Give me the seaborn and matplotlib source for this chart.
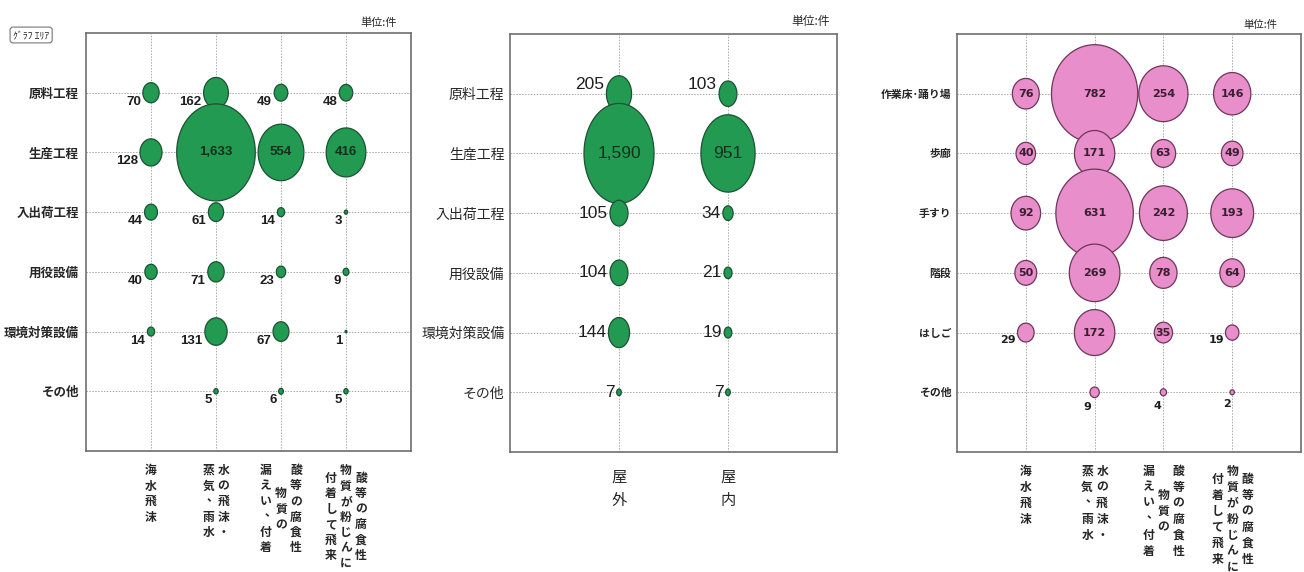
import numpy as np
import pandas as pd
import matplotlib
matplotlib.use("Agg")
import matplotlib.pyplot as plt
import seaborn as sns
from matplotlib.path import Path

sns.set_theme(style="white")
plt.rcParams['font.family'] = ['Noto Sans CJK JP', 'DejaVu Sans']
plt.rcParams['axes.unicode_minus'] = False

DPI = 100
PT = 72 / DPI  # 1px -> pt

# ---- データ ----
# 左: 工程別 × 腐食要因
process_rows = ['原料工程', '生産工程', '入出荷工程', '用役設備', '環境対策設備', 'その他']
cause_cols = [['海水飛沫'],
              ['水の飛沫・', '蒸気、雨水'],
              ['酸等の腐食性', '物質の', '漏えい、付着'],
              ['酸等の腐食性', '物質が粉じんに', '付着して飛来']]
cause_counts = [
    [70, 162, 49, 48],
    [128, 1633, 554, 416],
    [44, 61, 14, 3],
    [40, 71, 23, 9],
    [14, 131, 67, 1],
    [None, 5, 6, 5],
]

# 中: 工程別 × 屋外/屋内
place_cols = [['屋外'], ['屋内']]
place_counts = [
    [205, 103],
    [1590, 951],
    [105, 34],
    [104, 21],
    [144, 19],
    [7, 7],
]

# 右: 設備別 × 腐食要因
equip_rows = ['作業床･踊り場', '歩廊', '手すり', '階段', 'はしご', 'その他']
equip_counts = [
    [76, 782, 254, 146],
    [40, 171, 63, 49],
    [92, 631, 242, 193],
    [50, 269, 78, 64],
    [29, 172, 35, 19],
    [None, 9, 4, 2],
]


def to_long(rows, counts):
    recs = []
    for i in range(len(rows)):
        for j, v in enumerate(counts[i]):
            if v is not None:
                recs.append({'row': i, 'col': j, 'count': v})
    return pd.DataFrame(recs)


def ellipse(aspect):
    t = np.linspace(0, 2 * np.pi, 120)
    verts = np.column_stack([aspect * np.cos(t), np.sin(t)])
    return Path(verts, closed=True)


def draw_panel(ax, rows, cols, counts, cfg):
    df = to_long(rows, counts)
    vmax = df['count'].max()
    smax = (cfg['hmax'] * PT) ** 2
    sns.scatterplot(data=df, x='col', y='row', size='count',
                    sizes=(0, smax), size_norm=(0, vmax),
                    marker=ellipse(cfg['aspect']), color=cfg['color'],
                    edgecolor=cfg['edge'], linewidth=0.9, alpha=1,
                    legend=False, ax=ax, zorder=3)

    ax.set_xlim(-1, len(cols))
    ax.set_ylim(len(rows), -1)
    ax.set_xticks(range(len(cols)))
    ax.set_xticklabels([])
    ax.set_yticks(range(len(rows)))
    ax.set_yticklabels(rows, fontsize=cfg['yfs'], fontweight=cfg['yfw'])
    ax.tick_params(length=0, axis='y', pad=cfg['ypad'])
    ax.tick_params(length=0, axis='x')
    ax.set_xlabel('')
    ax.set_ylabel('')
    ax.grid(True, color='#a9a9a9', linestyle=(0, (1.5, 1.5)), linewidth=0.7)
    ax.set_axisbelow(True)
    for sp in ax.spines.values():
        sp.set_color('#6e6e6e')
        sp.set_linewidth(1.2)

    # 数値ラベル
    for _, r in df.iterrows():
        v = int(r['count'])
        h = np.sqrt(smax * v / vmax)
        rx = cfg['aspect'] * h / 2
        ry = h / 2
        txt = f"{v:,}"
        kw = dict(fontsize=cfg['nfs'], fontweight=cfg['nfw'],
                  family=cfg['nfam'], zorder=4)
        if v >= cfg['inside_min']:
            ax.annotate(txt, (r['col'], r['row']), ha='center', va='center',
                        color=cfg['incolor'], **kw)
        else:
            dx, dy = cfg['offset'](int(r['row']), rx, ry)
            ax.annotate(txt, (r['col'], r['row']), xytext=(dx, dy),
                        textcoords='offset points', ha='right', va='center',
                        color='#1e1e1e', **kw)

    # 縦書きの項目名
    cp = cfg['char_pitch'] * PT
    colp = cfg['col_pitch'] * PT
    top = cfg['xtop'] * PT
    for j, columns in enumerate(cols):
        k = len(columns)
        nmax = max(len(c) for c in columns)
        for i, col in enumerate(columns):
            dx = ((k - 1) / 2 - i) * colp
            start = top + (nmax - len(col)) / 2 * cp
            for n, ch in enumerate(col):
                ox, oy = 0, 0
                if ch == '、':
                    ox, oy = 0.35 * cfg['xfs'], 0.35 * cfg['xfs']
                ax.annotate(ch, (j, 0), xycoords=('data', 'axes fraction'),
                            xytext=(dx + ox, -(start + n * cp) + oy),
                            textcoords='offset points', ha='center', va='center',
                            fontsize=cfg['xfs'], fontweight=cfg['xfw'],
                            annotation_clip=False)

    # 単位
    ax.annotate('単位:件', (1, 1), xycoords='axes fraction',
                xytext=(cfg['unit_dx'] * PT, cfg['unit_dy'] * PT),
                textcoords='offset points', ha='right', va='center',
                fontsize=cfg['unit_fs'])


fig = plt.figure(figsize=(13.04, 5.72), dpi=DPI)
W, H = 1304, 572


def box(x0, x1, y0, y1):
    return [x0 / W, 1 - y1 / H, (x1 - x0) / W, (y1 - y0) / H]


ax1 = fig.add_axes(box(86, 411, 33, 451))
ax2 = fig.add_axes(box(510, 837, 34, 452))
ax3 = fig.add_axes(box(957, 1301, 34, 452))

green, green_edge = '#229a52', '#1b5233'
pink, pink_edge = '#e88ecb', '#6e3658'

cfg1 = dict(hmax=97, aspect=0.81, color=green, edge=green_edge,
            yfs=9, yfw='bold', ypad=5,
            nfs=9.5, nfw='bold', nfam=['Liberation Sans', 'DejaVu Sans'],
            incolor='#10301c', inside_min=400,
            offset=lambda row, rx, ry: (-(rx + 1.5), -6.5),
            char_pitch=15.5, col_pitch=15, xtop=19.5, xfs=8.5, xfw='bold',
            unit_dx=-14, unit_dy=10, unit_fs=8)

cfg2 = dict(hmax=100, aspect=0.70, color=green, edge=green_edge,
            yfs=10, yfw='normal', ypad=4,
            nfs=12.5, nfw='normal', nfam=['Liberation Sans', 'DejaVu Sans'],
            incolor='#10301c', inside_min=900,
            offset=lambda row, rx, ry: (-(rx + 1.5), 6.5 if row == 0 else 0),
            char_pitch=23, col_pitch=15, xtop=25, xfs=11, xfw='normal',
            unit_dx=-7, unit_dy=13, unit_fs=8.5)

cfg3 = dict(hmax=98, aspect=0.88, color=pink, edge=pink_edge,
            yfs=7.8, yfw='bold', ypad=4,
            nfs=8, nfw='bold', nfam=['DejaVu Sans'],
            incolor='#3a1f30', inside_min=35,
            offset=lambda row, rx, ry: ((-(rx * 0.8), -(ry + 7)) if row == 5
                                        else (-(rx + 1), -5)),
            char_pitch=16, col_pitch=15, xtop=19, xfs=8.5, xfw='bold',
            unit_dx=-24, unit_dy=9, unit_fs=7.5)

draw_panel(ax1, process_rows, cause_cols, cause_counts, cfg1)
draw_panel(ax2, process_rows, place_cols, place_counts, cfg2)
draw_panel(ax3, equip_rows, cause_cols, equip_counts, cfg3)

fig.text(13 / W, 1 - 35 / H, 'ｸﾞﾗﾌ ｴﾘｱ', fontsize=7, va='center', ha='left',
         bbox=dict(boxstyle='round,pad=0.3', fc='white', ec='#777777', lw=0.8))

fig.savefig('out.png', dpi=DPI)
